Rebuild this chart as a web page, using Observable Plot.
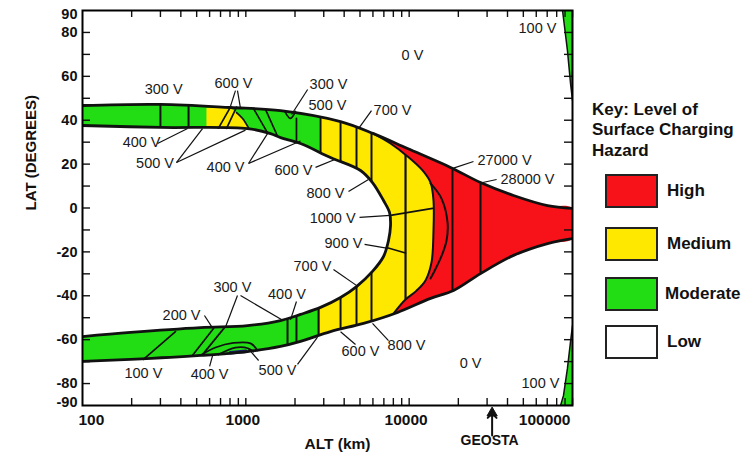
<!DOCTYPE html>
<html><head><meta charset="utf-8">
<script src="https://cdn.jsdelivr.net/npm/d3@7"></script>
<script src="https://cdn.jsdelivr.net/npm/@observablehq/plot@0.6"></script>
<style>
body{margin:0;background:#fff;font-family:"Liberation Sans",Arial,Helvetica,sans-serif;}
#wrap{position:relative;width:753px;height:458px;overflow:hidden;}
#chart{position:absolute;left:0;top:0;}
.kt{position:absolute;left:592px;font-weight:bold;font-size:17px;line-height:21px;color:#111;white-space:nowrap;}
.kb{position:absolute;left:605px;width:53px;height:34px;box-sizing:border-box;border:2px solid #222;}
.kl{position:absolute;font-weight:bold;font-size:17px;line-height:20px;color:#111;white-space:nowrap;}
</style></head>
<body><div id="wrap"><div id="chart"></div></div>
<script>
// ---------- colours ----------
const red = "#f7121a", yellow = "#ffe800", green = "#22dc14";

// ---------- band boundaries (ALT km, LAT deg) ----------
const outerTopAlt = [100, 300, 805, 1631, 3801, 6050, 9770, 17910, 27340, 43550, 70300, 100000];
const outerTopLat = [46.7, 47.2, 45.8, 44.4, 39.4, 33.9, 27.1, 18.5, 11.6, 5.7, 1.1, -0.2];
const outerBottomAlt = [100, 197, 527, 1024, 1631, 2161, 3298, 5253, 8490, 13520, 18690, 27340, 43550, 70300, 100000];
const outerBottomLat = [-69.9, -69.0, -67.2, -65.4, -63.1, -60.8, -56.3, -52.6, -47.6, -41.2, -37.6, -29.9, -21.6, -16.2, -13.9];
const innerAlt = [100, 300, 1024, 1417, 1631, 2161, 3298, 5036, 5963, 6965, 7586, 7690, 7474, 6965, 5963, 4760, 3801, 2866, 2161, 1631, 1024, 527, 197, 100];
const innerLat = [37.6, 36.7, 36.2, 33.9, 32.1, 29.4, 23.0, 17.1, 11.6, 3.4, -2.1, -8.0, -14.8, -22.1, -28.9, -35.8, -40.8, -45.3, -48.5, -51.3, -53.6, -54.5, -56.7, -58.6];

// yellow / red boundary and the crescent line inside the red region
const yellowEdgeAlt = [6050, 7690, 9770, 12080, 13520, 14090, 14090, 13700, 12590, 10930, 9497, 8020];
const yellowEdgeLat = [33.9, 29.4, 23.5, 17.1, 11.6, 3.4, -10.3, -24.8, -33.0, -38.1, -41.7, -48.1];
const crescentAlt = [13520, 15780, 17180, 16940, 15560, 13520];
const crescentLat = [11.2, 4.3, -6.6, -14.8, -23.0, -32.1];

// green / yellow change altitude and the small yellow patch in the northern band
const greenEdgeAlt = 2830;
const patchAlt = [574, 805, 877, 955, 1039, 1039, 574];
const patchLat = [45.6, 45.6, 43.5, 40.8, 36.7, 33.0, 33.0];

// green wedges at the right edge (100 V)
const wedgeTopAlt = [86900, 93100, 97300, 100000, 100000];
const wedgeTopLat = [90, 71.8, 56.7, 49.0, 90];
const wedgeBotAlt = [100000, 97300, 93100, 88100, 84500, 100000];
const wedgeBotLat = [-53.6, -60.8, -73.1, -85.4, -90, -90];

// contour lines of constant altitude
const upperLineAlt = [300, 446, 2866, 3801, 4760, 5880];
const lowerLineAlt = [1800, 2042, 2788, 3801, 4760, 5880];
const fullLineAlt = [18420, 27340];
const yellowLineAlt = [9500];

// other contour lines [alt, lat]
const c600a = [[805, 46.0], [680, 36.4]];
const c600b = [[877, 46.0], [762, 36.3]];
const cPatch = [[877, 43.5], [955, 40.8], [1039, 36.5]];
const c400a = [[1115, 45.3], [1358, 34.2]];
const c400b = [[1319, 44.9], [1564, 32.7]];
const cNotch = [[1726, 44.3], [1877, 40.8], [2014, 44.0]];
const c2042 = [[2042, 40.8], [2042, 29.8]];
const c1000 = [[7690, -3.4], [13900, -0.2]];
const c900 = [[7264, -18.0], [9500, -20.5]];
const c100 = [[371, -56.3], [236, -69.0]];
const c200 = [[634, -54.9], [471, -67.2]];
const c300 = [[740, -54.5], [543, -66.8]];
const cDome400 = [[527, -67.2], [652, -63.6], [840, -61.5], [1069, -61.7], [1179, -64.9]];
const cDome500 = [[680, -66.8], [864, -63.6], [1039, -64.0], [1115, -65.5]];
const cCore = [[805, -66.0], [1000, -65.3]];

// labels
const labelText = ["300 V","600 V","400 V","500 V","400 V","600 V","300 V","500 V","700 V","800 V","1000 V","900 V","700 V","27000 V","28000 V","200 V","300 V","400 V","100 V","400 V","500 V","600 V","800 V","0 V","0 V","100 V","100 V"];
const labelAlt = [314, 840, 230, 278, 751, 1958, 3208, 3162, 7910, 3074, 3400, 3963, 2558, 38370, 53050, 404, 828, 1786, 236, 600, 1564, 5036, 9638, 10480, 23750, 61050, 63680];
const labelLat = [54.0, 56.7, 29.8, 20.3, 18.5, 17.1, 56.3, 46.7, 44.4, 6.6, -4.8, -16.2, -26.7, 21.6, 13.0, -49.0, -36.2, -39.4, -75.4, -75.9, -74.0, -65.4, -62.7, 69.5, -70.8, 81.8, -79.9];

// leader lines [alt1, lat1, alt2, lat2]
const leaders = [
  [864, 53.5, 805, 46.3], [889, 53.5, 928, 45.3],
  [288, 29.4, 440, 36.2],
  [376, 20.7, 543, 36.2], [376, 20.7, 995, 35.5],
  [1039, 20.3, 1358, 33.9], [1039, 20.3, 2161, 30.5],
  [2671, 18.5, 3539, 22.2],
  [2390, 54.0, 1905, 42.6],
  [5880, 44.4, 4897, 36.2],
  [4252, 7.5, 5634, 13.0],
  [4966, -4.3, 7690, -3.4],
  [5334, -16.6, 7264, -18.3],
  [3440, -28.0, 4827, -35.6],
  [24770, 21.2, 18690, 18.2],
  [34300, 13.0, 27340, 11.4],
  [558, -49.0, 625, -54.6],
  [889, -39.9, 751, -54.2], [928, -39.9, 1702, -51.4],
  [2042, -42.6, 1877, -51.0],
  [600, -72.2, 625, -67.4],
  [1197, -69.5, 1039, -64.2], [2072, -71.3, 2748, -58.8],
  [4693, -62.2, 3801, -56.4],
  [7474, -60.4, 5963, -52.6]
];

// axes
const xLabelValues = [100, 1000, 10000, 100000];
const yLabelValues = [90, 80, 60, 40, 20, 0, -20, -40, -60, -80, -90];
const geostaAlt = 32200;

// key
const keyTitle = ["Key: Level of", "Surface Charging", "Hazard"];
const keyLabels = ["High", "Medium", "Moderate", "Low"];
const keyColors = [red, yellow, green, "#ffffff"];

// ---------- helpers ----------
const P = (alts, lats) => alts.map((a, i) => [a, lats[i]]);
function latAt(alts, lats, a) {
  const la = Math.log10(a);
  for (let i = 0; i < alts.length - 1; i++) {
    const a0 = Math.log10(alts[i]), a1 = Math.log10(alts[i + 1]);
    if (la >= a0 && la <= a1) { const t = (la - a0) / (a1 - a0); return lats[i] + t * (lats[i + 1] - lats[i]); }
  }
  return la < Math.log10(alts[0]) ? lats[0] : lats[lats.length - 1];
}
const nose = innerAlt.indexOf(Math.max(...innerAlt));
const inUpA = innerAlt.slice(0, nose + 1), inUpL = innerLat.slice(0, nose + 1);
const inLoA = innerAlt.slice(nose).reverse(), inLoL = innerLat.slice(nose).reverse();
const yeTopN = yellowEdgeLat.indexOf(3.4) + 1;
const yeTopA = yellowEdgeAlt.slice(0, yeTopN), yeTopL = yellowEdgeLat.slice(0, yeTopN);
const yeBotA = yellowEdgeAlt.slice(yeTopN).reverse(), yeBotL = yellowEdgeLat.slice(yeTopN).reverse();

const outerTop = P(outerTopAlt, outerTopLat);
const outerBottom = P(outerBottomAlt, outerBottomLat);
const inner = P(innerAlt, innerLat);
const yellowEdge = P(yellowEdgeAlt, yellowEdgeLat);

const redPoly = outerTop.concat(outerBottom.slice().reverse());
const yStart = yellowEdgeAlt[0], yEnd = yellowEdgeAlt[yellowEdgeAlt.length - 1];
const yellowPoly = outerTop.filter(d => d[0] < yStart)
  .concat(yellowEdge)
  .concat(outerBottom.filter(d => d[0] < yEnd).reverse());
const greenPoly = outerTop.filter(d => d[0] < greenEdgeAlt)
  .concat([[greenEdgeAlt, latAt(outerTopAlt, outerTopLat, greenEdgeAlt)], [greenEdgeAlt, latAt(outerBottomAlt, outerBottomLat, greenEdgeAlt)]])
  .concat(outerBottom.filter(d => d[0] < greenEdgeAlt).reverse());

const contours = [c600a, c600b, cPatch, c400a, c400b, cNotch, c2042, c1000, c900, c100, c200, c300, cDome400, cDome500]
  .flatMap((c, k) => c.map(d => ({alt: d[0], lat: d[1], k})));

const xMinor = [];
for (const base of [100, 1000, 10000]) for (let m = 2; m <= 10; m++) xMinor.push(base * m);
const yMinor = d3.range(-80, 90, 10);

const ink = "#111";
const FW = 490, FH = 395;
const poly = (pts, fill, curve = "linear", extra = {}) => Plot.line(pts, {x: d => d[0], y: d => d[1], fill, stroke: "none", curve, clip: true, ...extra});
const stroke = (pts, w, curve = "catmull-rom") => Plot.line(pts, {x: d => d[0], y: d => d[1], stroke: ink, strokeWidth: w, curve, clip: true, strokeLinejoin: "round"});
const vlines = (alts, topA, topL, botA, botL, w = 2) => Plot.link(alts, {x1: d => d, x2: d => d, y1: d => latAt(topA, topL, d), y2: d => latAt(botA, botL, d), stroke: ink, strokeWidth: w});
const font = "Liberation Sans, Arial, Helvetica, sans-serif";
const yFont = 14.5;

const chart = Plot.plot({
  width: 753, height: 458,
  marginLeft: 82, marginRight: 181, marginTop: 10, marginBottom: 53,
  x: {type: "log", domain: [100, 100000], axis: null},
  y: {domain: [-90, 90], axis: null},
  style: {fontFamily: font, background: "white", overflow: "visible"},
  marks: [
    poly(redPoly, red, "catmull-rom"),
    poly(yellowPoly, yellow),
    poly(greenPoly, green),
    poly(P(patchAlt, patchLat), yellow),
    Plot.line(P(wedgeTopAlt, wedgeTopLat), {x: d => d[0], y: d => d[1], fill: green, stroke: ink, strokeWidth: 1.5, clip: true}),
    Plot.line(P(wedgeBotAlt, wedgeBotLat), {x: d => d[0], y: d => d[1], fill: green, stroke: ink, strokeWidth: 1.5, clip: true}),
    poly(inner, "white", "catmull-rom"),
    // contour lines
    vlines(upperLineAlt, outerTopAlt, outerTopLat, inUpA, inUpL),
    vlines(lowerLineAlt, inLoA, inLoL, outerBottomAlt, outerBottomLat),
    vlines(fullLineAlt, outerTopAlt, outerTopLat, outerBottomAlt, outerBottomLat),
    vlines(yellowLineAlt, yeTopA, yeTopL, yeBotA, yeBotL, 2.2),
    Plot.line(contours, {x: "alt", y: "lat", z: "k", stroke: ink, strokeWidth: 1.7, curve: "catmull-rom"}),
    Plot.line(P(cCore.map(d => d[0]), cCore.map(d => d[1])), {x: d => d[0], y: d => d[1], stroke: "#1a1a70", strokeWidth: 3.5}),
    stroke(yellowEdge, 2),
    stroke(P(crescentAlt, crescentLat), 2),
    // band outlines
    stroke(outerTop, 2.8),
    stroke(outerBottom, 2.8),
    stroke(inner, 2.8),
    // leaders and labels
    Plot.link(leaders, {x1: d => d[0], y1: d => d[1], x2: d => d[2], y2: d => d[3], stroke: ink, strokeWidth: 1.2}),
    Plot.text(labelText, {x: (d, i) => labelAlt[i], y: (d, i) => labelLat[i], text: d => d, fontSize: 14.5, fill: "#1a1a1a"}),
    // ticks (inward)
    Plot.tickX(xMinor, {x: d => d, insetTop: FH - 7, stroke: ink, strokeWidth: 1.4}),
    Plot.tickX(xMinor, {x: d => d, insetBottom: FH - 7, stroke: ink, strokeWidth: 1.4}),
    Plot.tickY(yMinor, {y: d => d, insetRight: FW - 8, stroke: ink, strokeWidth: 1.4}),
    Plot.tickY(yMinor, {y: d => d, insetLeft: FW - 8, stroke: ink, strokeWidth: 1.4}),
    Plot.frame({stroke: "#000", strokeWidth: 2}),
    // tick labels
    Plot.text(yLabelValues.filter(v => Math.abs(v) < 90), {y: d => d, text: d => String(d), frameAnchor: "left", textAnchor: "end", dx: -5, fontSize: yFont, fontWeight: "bold", fill: ink}),
    Plot.text([yLabelValues[0]], {y: d => d, text: d => String(d), frameAnchor: "left", textAnchor: "end", dx: -5, dy: -1.5, lineAnchor: "top", fontSize: yFont, fontWeight: "bold", fill: ink}),
    Plot.text([yLabelValues[yLabelValues.length - 1]], {y: d => d, text: d => String(d), frameAnchor: "left", textAnchor: "end", dx: -5, dy: 1.5, lineAnchor: "bottom", fontSize: yFont, fontWeight: "bold", fill: ink}),
    Plot.text([xLabelValues[0]], {x: d => d, text: d => String(d), frameAnchor: "bottom", textAnchor: "start", dx: -4, dy: 8, lineAnchor: "top", fontSize: 15.5, fontWeight: "bold", fill: ink}),
    Plot.text(xLabelValues.slice(1, -1), {x: d => d, text: d => String(d), frameAnchor: "bottom", dx: -3, dy: 8, lineAnchor: "top", fontSize: 15.5, fontWeight: "bold", fill: ink}),
    Plot.text([xLabelValues[xLabelValues.length - 1]], {x: d => d, text: d => String(d), frameAnchor: "bottom", textAnchor: "end", dx: -2, dy: 8, lineAnchor: "top", fontSize: 15.5, fontWeight: "bold", fill: ink}),
    // axis titles
    Plot.text(["ALT (km)"], {text: d => d, frameAnchor: "bottom", dx: 10, dy: 43, fontSize: 15.5, fontWeight: "bold", fill: ink}),
    Plot.text(["LAT (DEGREES)"], {text: d => d, frameAnchor: "left", rotate: -90, dx: -51, dy: 2.5, fontSize: 15, fontWeight: "bold", fill: ink}),
    // GEOSTA arrow
    Plot.vector([geostaAlt], {x: d => d, frameAnchor: "bottom", dy: 30, length: 22, anchor: "start", stroke: ink, strokeWidth: 2}),
    Plot.dot([geostaAlt], {x: d => d, frameAnchor: "bottom", dy: 7.5, symbol: "triangle", r: 3.8, fill: ink, stroke: ink, strokeWidth: 1}),
    Plot.text([geostaAlt], {x: d => d, text: () => "GEOSTA", frameAnchor: "bottom", dx: -2.5, dy: 39, fontSize: 14, fontWeight: "bold", fill: ink})
  ]
});
document.getElementById("chart").appendChild(chart);

// ---------- key ----------
const wrap = document.getElementById("wrap");
keyTitle.forEach((t, i) => {
  const d = document.createElement("div");
  d.className = "kt"; d.textContent = t;
  d.style.top = (98.5 + i * 20.5) + "px";
  wrap.appendChild(d);
});
const boxTops = [174, 227, 277, 325];
keyLabels.forEach((t, i) => {
  const b = document.createElement("div");
  b.className = "kb"; b.style.top = boxTops[i] + "px"; b.style.background = keyColors[i];
  wrap.appendChild(b);
  const l = document.createElement("div");
  l.className = "kl"; l.textContent = t;
  l.style.left = (i === 2 ? 665 : 667) + "px";
  l.style.top = (boxTops[i] + 17 - 10) + "px";
  wrap.appendChild(l);
});
</script></body></html>
